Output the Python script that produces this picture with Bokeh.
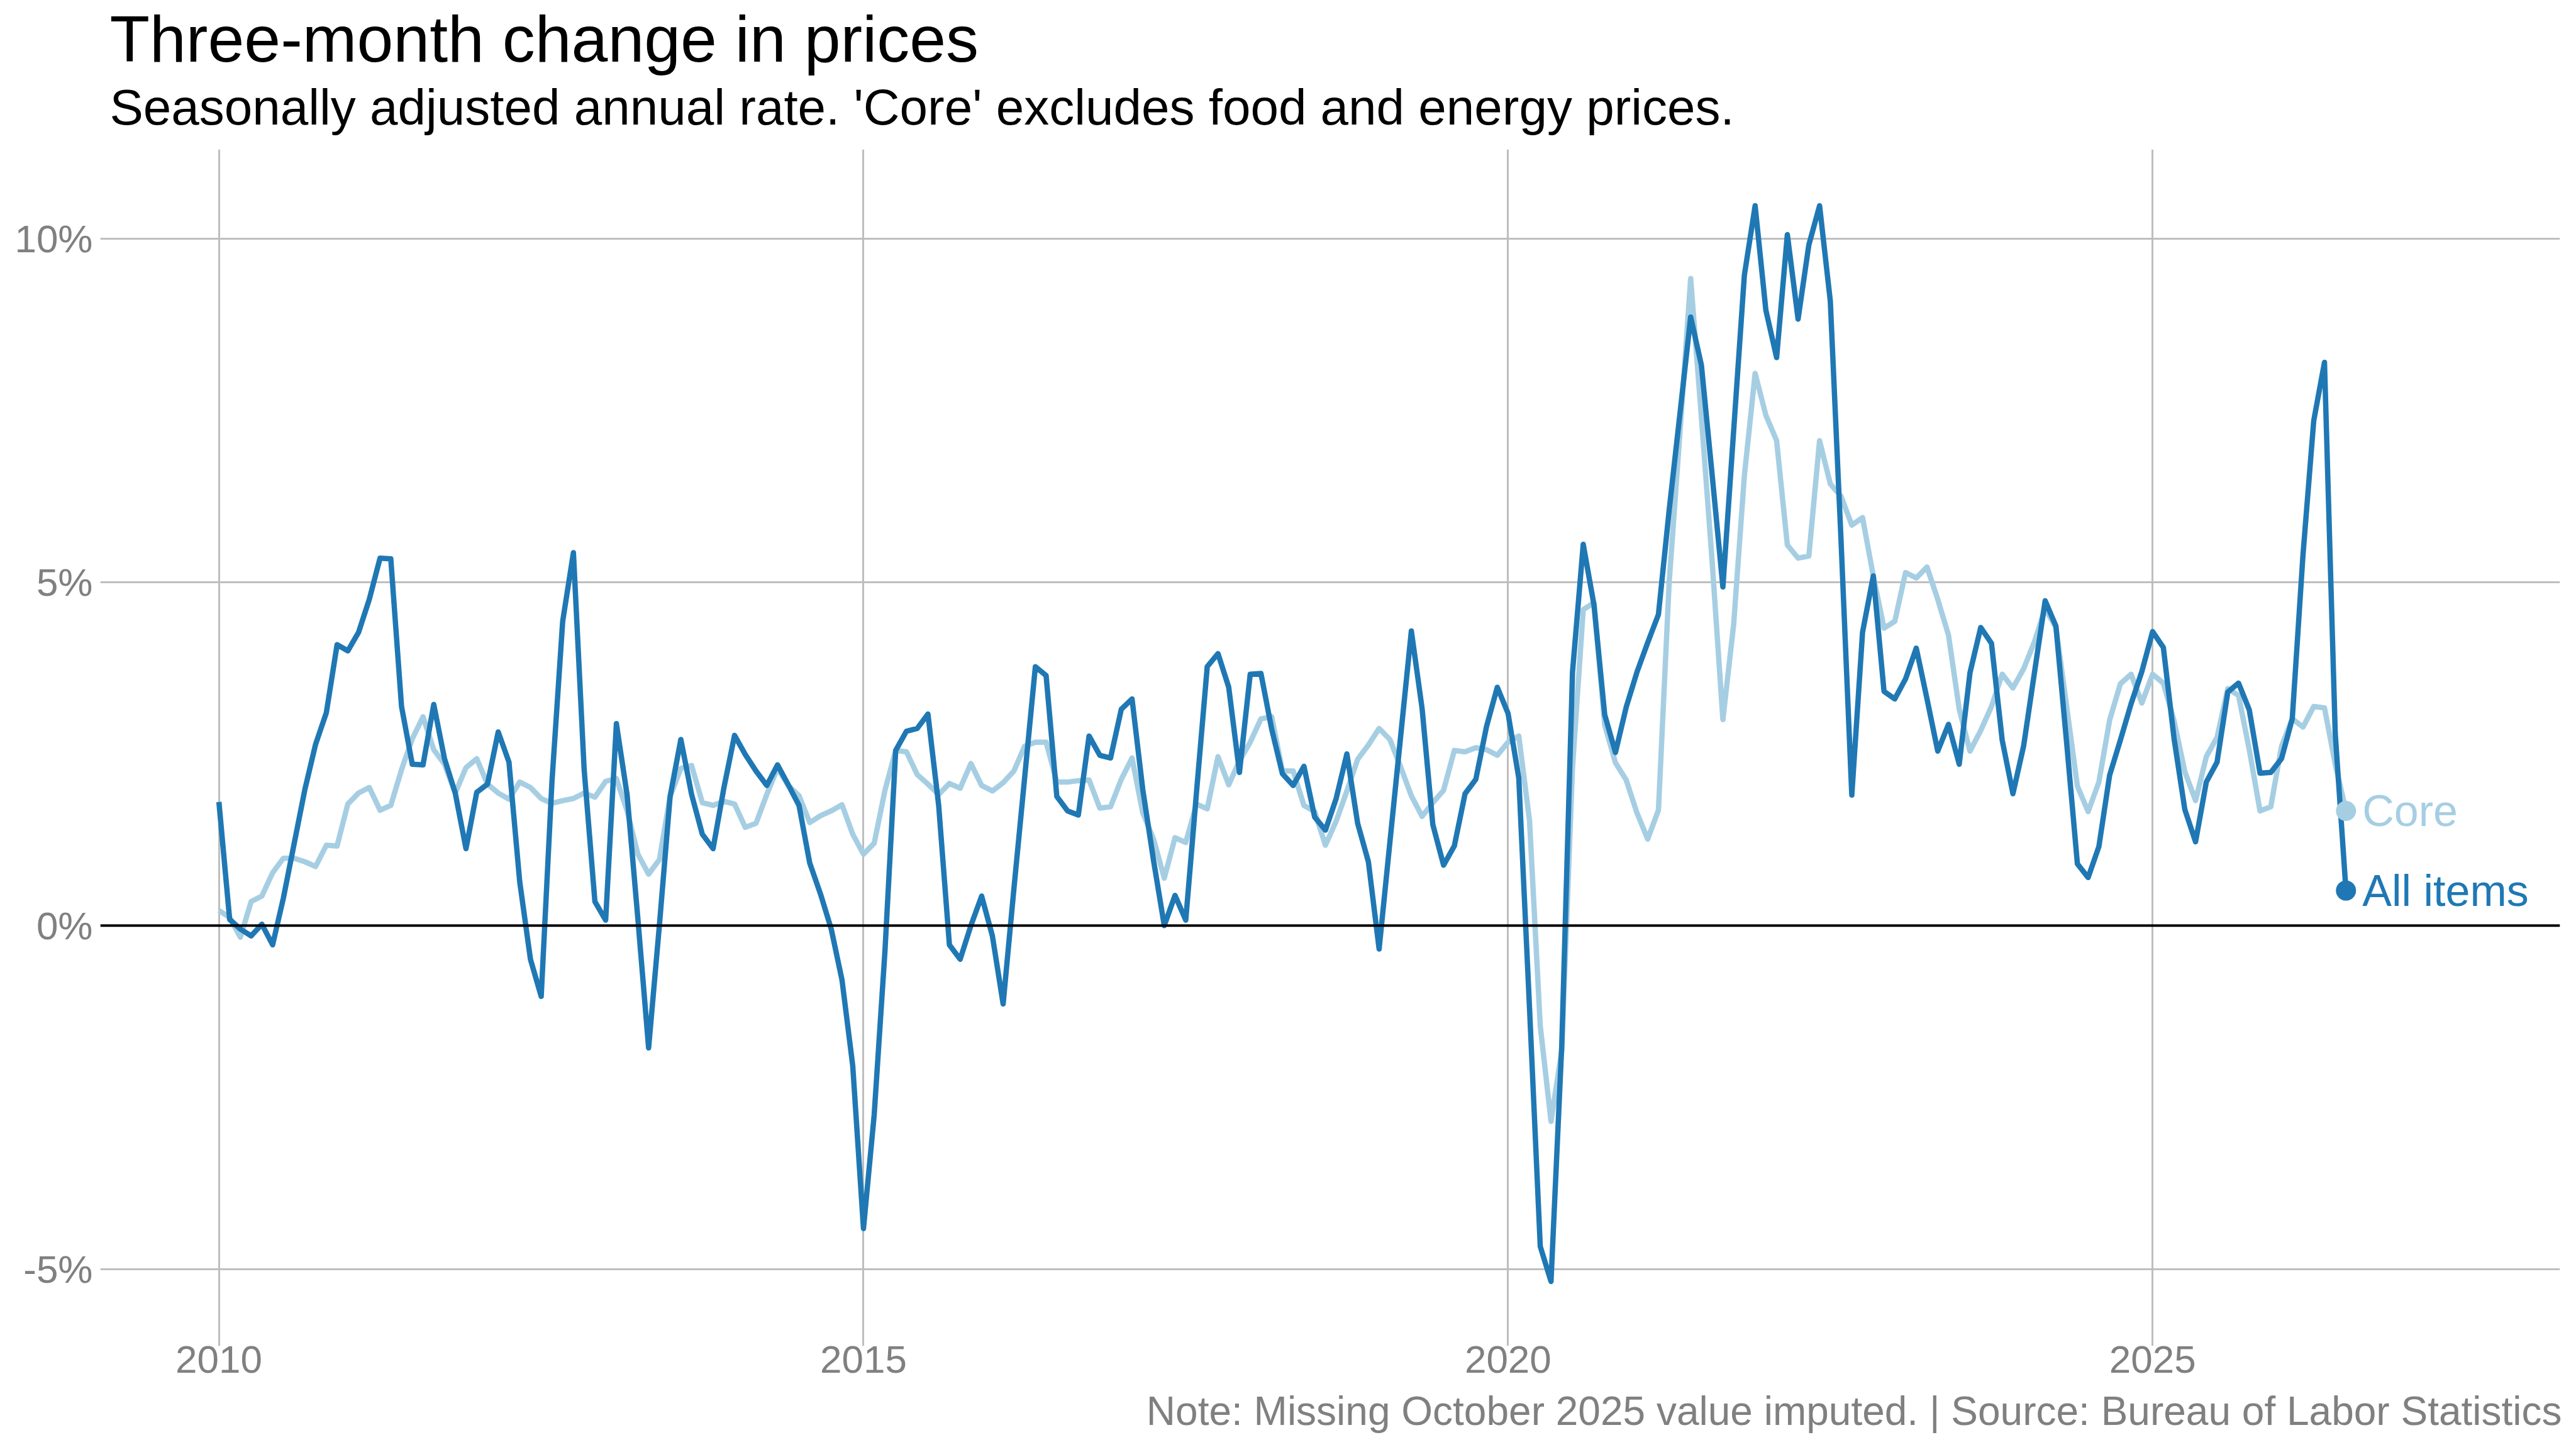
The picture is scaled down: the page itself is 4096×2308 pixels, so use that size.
from bokeh.plotting import figure
from bokeh.models import (FixedTicker, PrintfTickFormatter, Span, Title,
                          ColumnDataSource, Range1d, LinearAxis, CustomJSTickFormatter)
from bokeh.core.properties import value
from bokeh.embed import file_html
from bokeh.resources import INLINE

# ---------------- data ----------------
start_year = 2010  # first observation: January 2010, monthly

all_items = [
    1.80, 0.09, -0.05, -0.15, 0.02, -0.28, 0.40, 1.19, 1.98, 2.64, 3.10, 4.09,   # 2010
    4.00, 4.27, 4.75, 5.35, 5.34, 3.19, 2.35, 2.34, 3.22, 2.43, 1.93, 1.12,      # 2011
    1.94, 2.06, 2.82, 2.38, 0.64, -0.49, -1.03, 2.09, 4.43, 5.43, 2.27, 0.35,    # 2012
    0.08, 2.94, 1.90, 0.10, -1.78, 0.00, 1.88, 2.71, 1.91, 1.33, 1.12, 2.00,     # 2013
    2.77, 2.49, 2.25, 2.04, 2.34, 2.05, 1.75, 0.91, 0.46, -0.05, -0.79, -2.04,   # 2014
    -4.41, -2.75, -0.37, 2.55, 2.83, 2.87, 3.08, 1.75, -0.28, -0.49, 0.00, 0.43, # 2015
    -0.15, -1.14, 0.53, 2.15, 3.77, 3.64, 1.88, 1.67, 1.61, 2.76, 2.48, 2.44,    # 2016
    3.15, 3.30, 1.98, 0.95, 0.00, 0.44, 0.08, 1.94, 3.77, 3.96, 3.47, 2.23,      # 2017
    3.66, 3.67, 2.86, 2.21, 2.04, 2.32, 1.58, 1.39, 1.85, 2.50, 1.49, 0.93,      # 2018
    -0.34, 1.21, 2.75, 4.29, 3.16, 1.47, 0.88, 1.16, 1.92, 2.13, 2.90, 3.47,     # 2019
    3.09, 2.15, -1.20, -4.67, -5.18, -1.75, 3.69, 5.55, 4.67, 3.07, 2.52, 3.18,  # 2020
    3.69, 4.12, 4.53, 6.05, 7.45, 8.86, 8.16, 6.56, 4.93, 7.20, 9.47, 10.48,     # 2021
    8.96, 8.27, 10.06, 8.83, 9.91, 10.48, 9.09, 5.60, 1.90, 4.27, 5.09, 3.41,    # 2022
    3.30, 3.59, 4.04, 3.30, 2.54, 2.93, 2.35, 3.68, 4.34, 4.11, 2.70, 1.92,      # 2023
    2.62, 3.68, 4.73, 4.36, 2.66, 0.90, 0.70, 1.15, 2.19, 2.70, 3.23, 3.70,      # 2024
    4.28, 4.05, 2.72, 1.69, 1.22, 2.09, 2.38, 3.40, 3.53, 3.14, 2.22, 2.23,      # 2025
    2.43, 3.01, 5.40, 7.35, 8.20, 2.80, 0.51,                                    # 2026
]

core = [
    0.22, 0.12, -0.17, 0.35, 0.43, 0.77, 0.98, 0.98, 0.93, 0.86, 1.17, 1.16,     # 2010
    1.77, 1.93, 2.01, 1.68, 1.75, 2.27, 2.72, 3.04, 2.56, 2.35, 1.93, 2.30,      # 2011
    2.43, 2.06, 1.93, 1.84, 2.09, 2.01, 1.85, 1.78, 1.82, 1.85, 1.93, 1.87,      # 2012
    2.10, 2.14, 1.67, 1.04, 0.75, 0.96, 1.88, 2.29, 2.33, 1.79, 1.75, 1.81,      # 2013
    1.77, 1.43, 1.49, 1.91, 2.29, 2.04, 1.89, 1.50, 1.60, 1.67, 1.76, 1.33,      # 2014
    1.04, 1.20, 1.97, 2.55, 2.53, 2.20, 2.06, 1.91, 2.07, 2.00, 2.36, 2.04,      # 2015
    1.96, 2.08, 2.25, 2.61, 2.67, 2.67, 2.09, 2.09, 2.11, 2.12, 1.71, 1.73,      # 2016
    2.13, 2.44, 1.64, 1.26, 0.69, 1.28, 1.21, 1.77, 1.70, 2.46, 2.05, 2.40,      # 2017
    2.67, 3.01, 3.04, 2.25, 2.25, 1.75, 1.66, 1.17, 1.52, 1.96, 2.42, 2.63,      # 2018
    2.87, 2.71, 2.31, 1.89, 1.59, 1.79, 1.97, 2.55, 2.53, 2.59, 2.56, 2.48,      # 2019
    2.67, 2.76, 1.53, -1.46, -2.85, -1.82, 2.30, 4.60, 4.70, 2.92, 2.37, 2.12,   # 2020
    1.64, 1.26, 1.68, 5.00, 7.17, 9.42, 7.40, 5.30, 3.00, 4.38, 6.55, 8.04,      # 2021
    7.43, 7.06, 5.54, 5.35, 5.38, 7.06, 6.43, 6.25, 5.83, 5.94, 5.09, 4.33,      # 2022
    4.43, 5.14, 5.06, 5.22, 4.75, 4.23, 3.15, 2.54, 2.84, 3.19, 3.66, 3.46,      # 2023
    3.74, 4.13, 4.62, 4.34, 3.19, 2.03, 1.66, 2.09, 2.99, 3.52, 3.66, 3.24,      # 2024
    3.66, 3.53, 2.98, 2.24, 1.82, 2.46, 2.74, 3.45, 3.35, 2.56, 1.67, 1.73,      # 2025
    2.61, 3.01, 2.89, 3.19, 3.17, 2.35, 1.67,                                    # 2026
]

x_ticks = [2010, 2015, 2020, 2025]
y_ticks = [-5, 0, 5, 10]
series_names = ["Core", "All items"]

title_text = "Three-month change in prices"
subtitle_text = "Seasonally adjusted annual rate. 'Core' excludes food and energy prices."
note_text = "Note: Missing October 2025 value imputed. | Source: Bureau of Labor Statistics"

# ---------------- styling ----------------
DARK = "#1F78B4"
LIGHT = "#A6CEE3"
GRID = "#BEBEBE"
GREY_TEXT = "#808080"
FONT = "Liberation Sans"

W, H = 4080, 2292
LEFT, RIGHT, TOP, BOTTOM = 159, 10, 237, 153
X0, X1 = 2009.08, 2028.16

months = [start_year + i / 12.0 for i in range(len(all_items))]

p = figure(width=W, height=H, output_backend="svg", toolbar_location=None,
           x_range=Range1d(X0, X1), y_range=Range1d(-6.12, 11.30),
           min_border_left=LEFT, min_border_right=RIGHT,
           min_border_top=TOP, min_border_bottom=BOTTOM)
p.outline_line_color = None
p.background_fill_color = "white"
p.border_fill_color = "white"

# axes
for ax in (p.xaxis[0], p.yaxis[0]):
    ax.axis_line_color = None
    ax.major_tick_line_color = None
    ax.minor_tick_line_color = None
    ax.major_tick_out = 0
    ax.major_tick_in = 0
    ax.minor_tick_out = 0
    ax.minor_tick_in = 0
    ax.major_label_text_font = FONT
    ax.major_label_text_font_size = "62px"
    ax.major_label_text_color = GREY_TEXT
p.xaxis[0].ticker = FixedTicker(ticks=x_ticks)
p.yaxis[0].ticker = FixedTicker(ticks=y_ticks)
p.yaxis[0].formatter = PrintfTickFormatter(format="%d%%")
p.xaxis[0].major_label_standoff = 0
p.yaxis[0].major_label_standoff = 12


def spacer_axis(size, at):
    """An unlabeled axis whose only job is to reserve `size` px of margin."""
    return LinearAxis(ticker=FixedTicker(ticks=[at], minor_ticks=[]),
                      formatter=CustomJSTickFormatter(code="return ''"),
                      axis_line_color=None, major_tick_line_color="white",
                      minor_tick_line_color=None, major_tick_out=size, major_tick_in=0,
                      minor_tick_out=0, minor_tick_in=0, major_label_standoff=0,
                      major_label_text_font_size="1px")


# bottom: year labels, spacer, source note
p.add_layout(spacer_axis(22, X0 + 0.05), "below")
p.add_layout(Title(text=note_text, align="right", offset=-3, standoff=0,
                   vertical_align="top", text_font=FONT, text_font_size="64px",
                   text_font_style="normal", text_color=GREY_TEXT), "below")

# top: spacer, subtitle, title (first added sits nearest to the plot)
p.add_layout(spacer_axis(19, X1 - 0.05), "above")
p.add_layout(Title(text=subtitle_text, align="left", offset=15, standoff=8,
                   vertical_align="bottom", text_font=FONT, text_font_size="80px",
                   text_font_style="normal", text_color="black"), "above")
p.add_layout(Title(text=title_text, align="left", offset=15, standoff=0,
                   vertical_align="bottom", text_font=FONT, text_font_size="104px",
                   text_font_style="normal", text_color="black"), "above")

# grids
p.xgrid[0].ticker = FixedTicker(ticks=x_ticks)
p.ygrid[0].ticker = FixedTicker(ticks=y_ticks)
for g in (p.xgrid[0], p.ygrid[0]):
    g.grid_line_color = GRID
    g.grid_line_width = 3
    g.minor_grid_line_color = None

p.add_layout(Span(location=0, dimension="width", line_color="black", line_width=4))

# lines
src = ColumnDataSource(dict(x=months, core=core, all_items=all_items))
p.line("x", "core", source=src, line_color=LIGHT, line_width=8.5, line_join="round")
p.line("x", "all_items", source=src, line_color=DARK, line_width=8.5, line_join="round")

# end points and labels
end_src = ColumnDataSource(dict(
    x=[months[-1], months[-1]],
    y=[core[-1], all_items[-1]],
    name=series_names,
    color=[LIGHT, DARK],
))
p.scatter("x", "y", source=end_src, size=32, color="color", line_color=None)
p.text("x", "y", text="name", source=end_src, text_color="color",
       text_font=value(FONT), text_font_size="70px", text_baseline="middle",
       text_align="left", x_offset=26)

with open("out.html", "w") as f:
    f.write(file_html(p, INLINE))
